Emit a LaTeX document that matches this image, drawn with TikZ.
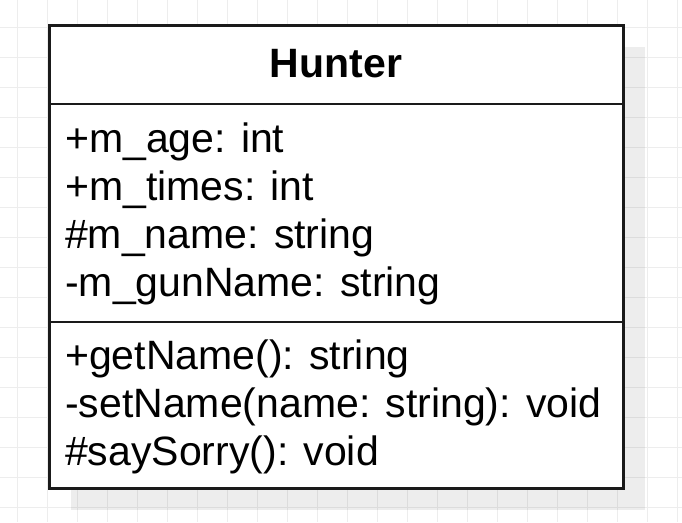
\documentclass[tikz,border=0pt]{standalone}
\usepackage{fontspec}
\setmainfont{Liberation Sans}
\usepackage{tikz}
\usepackage{xcolor}
\usetikzlibrary{calc}

\definecolor{gridgray}{HTML}{EDEDED}
\definecolor{framegray}{HTML}{1A1A1A}

\begin{document}
\begin{tikzpicture}[x=1pt, y=-1pt,
    member/.style={anchor=base west, inner sep=0pt, font=\fontsize{41}{48}\selectfont},
    classname/.style={anchor=base, inner sep=0pt, font=\fontsize{41}{48}\selectfont\bfseries}]
  \useasboundingbox (0,0) rectangle (682,522);

  % background grid
  \foreach \gx in {17,47,...,677}
    \draw[gridgray, line width=1pt] (\gx,0) -- (\gx,522);
  \foreach \gy in {27,57,...,507}
    \draw[gridgray, line width=1pt] (0,\gy) -- (682,\gy);

  \coordinate (TL) at (49,25);
  \coordinate (BR) at (623,488);
  \coordinate (H) at (49,104);
  \coordinate (A) at (49,322);

  % shadow and class box
  \fill[black, opacity=0.07] ($(TL)+(22,22)$) rectangle ($(BR)+(22,22)$);
  \draw[framegray, line width=3pt, fill=white] (TL) rectangle (BR);
  \draw[framegray, line width=2.4pt] (H) -- (H -| BR);
  \draw[framegray, line width=2.4pt] (A) -- (A -| BR);

  \node[classname] (name) at (336,77) {Hunter};

  \node[member] (age)   at (65,152) {+m\_age: int};
  \node[member] (times) at (65,200) {+m\_times: int};
  \node[member] (nm)    at (65,248) {\#m\_name: string};
  \node[member] (gun)   at (65,296) {-m\_gunName: string};

  \node[member] (get)   at (65,369) {+getName(): string};
  \node[member] (set)   at (65,417) {-setName(name: string): void};
  \node[member] (sorry) at (65,465) {\#saySorry(): void};
\end{tikzpicture}
\end{document}
